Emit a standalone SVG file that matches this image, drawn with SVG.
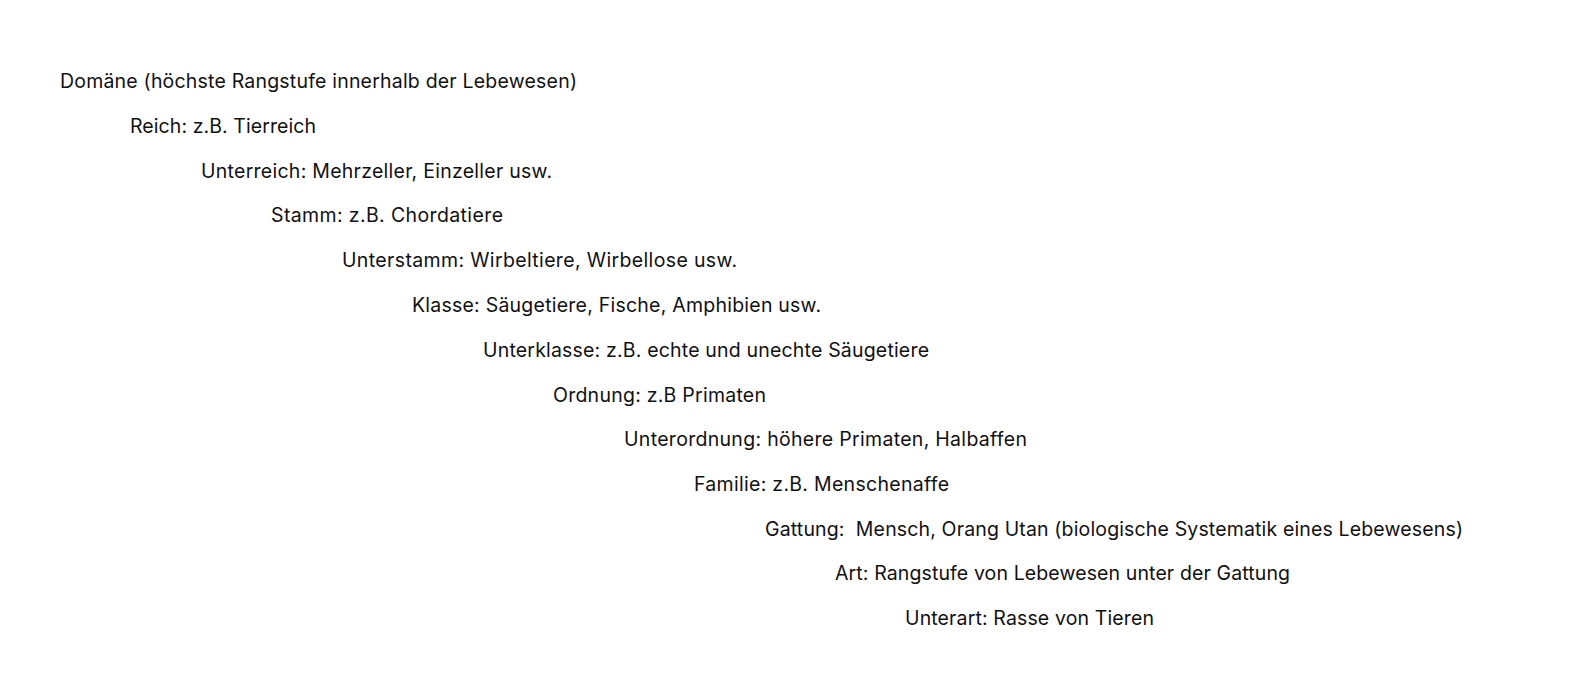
<svg xmlns="http://www.w3.org/2000/svg" width="1575" height="681" viewBox="0 0 1575 681">
<style>
text{font-family:"Inter","Noto Sans","Liberation Sans",sans-serif;font-size:19.5px;fill:#111;white-space:pre}
</style>
<rect width="1575" height="681" fill="#fff"/>
<g id="n1"><text x="60" y="88" textLength="517">Domäne (höchste Rangstufe innerhalb der Lebewesen)</text></g>
<g id="n2"><text x="130" y="133" textLength="186">Reich: z.B. Tierreich</text></g>
<g id="n3"><text x="201" y="178" textLength="351">Unterreich: Mehrzeller, Einzeller usw.</text></g>
<g id="n4"><text x="271" y="222" textLength="232">Stamm: z.B. Chordatiere</text></g>
<g id="n5"><text x="342" y="267" textLength="395">Unterstamm: Wirbeltiere, Wirbellose usw.</text></g>
<g id="n6"><text x="412" y="312" textLength="409">Klasse: Säugetiere, Fische, Amphibien usw.</text></g>
<g id="n7"><text x="483" y="357" textLength="446">Unterklasse: z.B. echte und unechte Säugetiere</text></g>
<g id="n8"><text x="553" y="402" textLength="213">Ordnung: z.B Primaten</text></g>
<g id="n9"><text x="624" y="446" textLength="403">Unterordnung: höhere Primaten, Halbaffen</text></g>
<g id="n10"><text x="694" y="491" textLength="255">Familie: z.B. Menschenaffe</text></g>
<g id="n11"><text x="765" y="536" textLength="698">Gattung:  Mensch, Orang Utan (biologische Systematik eines Lebewesens)</text></g>
<g id="n12"><text x="835" y="580" textLength="455">Art: Rangstufe von Lebewesen unter der Gattung</text></g>
<g id="n13"><text x="905" y="625" textLength="249">Unterart: Rasse von Tieren</text></g>
<g id="connectors"></g>
</svg>
